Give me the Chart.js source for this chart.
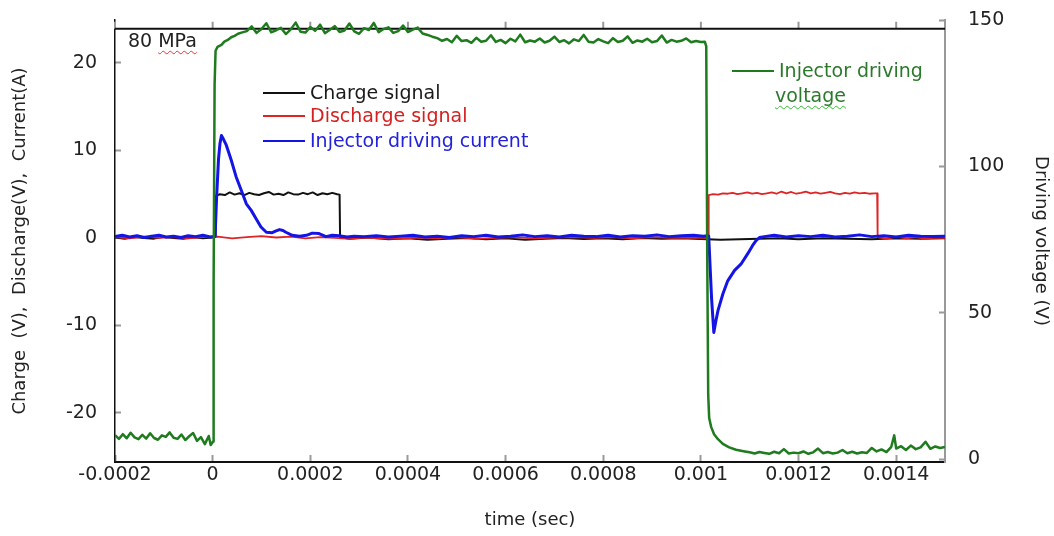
<!DOCTYPE html>
<html>
<head>
<meta charset="utf-8">
<title>Injector charge / discharge signals</title>
<script src="https://cdn.jsdelivr.net/npm/chart.js@4.4.1/dist/chart.umd.min.js"></script>
<style>
  body { margin: 0; background: #fff; }
  #wrap { position: relative; width: 1054px; height: 536px; font-family: "DejaVu Sans", sans-serif; }
  #chart { position: absolute; left: 0; top: 0; }
  .note { position: absolute; font-size: 19px; line-height: 22px; white-space: nowrap; }
  .key { display: inline-block; width: 42px; height: 2px; vertical-align: middle; margin-right: 5px; position: relative; top: -1px; }
  .squiggle { text-decoration: underline wavy; text-decoration-skip-ink: none; text-underline-offset: 3px; text-decoration-thickness: 1px; }
</style>
</head>
<body>
<div id="wrap">
  <canvas id="chart" width="1054" height="536"></canvas>
  <div class="note" style="left:128px; top:29px; color:#222">80 <span class="squiggle" style="text-decoration-color:#e33">MPa</span></div>
  <div class="note" style="left:263px; top:81px; color:#1a1a1a"><span class="key" style="background:#111"></span>Charge signal</div>
  <div class="note" style="left:263px; top:104px; color:#d62020"><span class="key" style="background:#e02424"></span>Discharge signal</div>
  <div class="note" style="left:263px; top:129px; color:#2222dd"><span class="key" style="background:#1414e6"></span>Injector driving current</div>
  <div class="note" style="left:732px; top:59px; color:#2b7a2b"><span class="key" style="background:#1e7b1e"></span>Injector driving</div>
  <div class="note" style="left:775px; top:84px; color:#2b7a2b"><span class="squiggle" style="text-decoration-color:#3b3">voltage</span></div>
</div>
<script>
// time in microseconds, values in V (voltage on right axis) or V / A (left axis)
const drivingVoltage = [
  [-200, 8.2], [-192, 6.9], [-184, 8.5], [-176, 7.1], [-168, 9.0], [-160, 7.4], [-152, 6.8], [-144, 8.3],
  [-136, 7.0], [-128, 8.8], [-120, 7.2], [-112, 6.6], [-104, 8.1], [-96, 7.6], [-88, 9.1], [-80, 7.3],
  [-72, 6.9], [-64, 8.4], [-56, 6.5], [-48, 7.8], [-40, 8.9], [-32, 6.2], [-24, 7.5], [-16, 5.1],
  [-8, 7.9], [-4, 4.8], [1, 6.0],
  [2, 60], [4, 128], [6, 139.5], [10, 140.8], [18, 141.5], [24, 142.6], [31, 143.2], [38, 144.1],
  [45, 144.6], [52, 145.3], [59, 145.7],
  [70, 146.2], [80, 147.8], [90, 145.6], [100, 146.9], [110, 148.9], [120, 145.8], [130, 146.5], [140, 147.3],
  [150, 145.2], [160, 146.8], [170, 149.1], [180, 146.0], [190, 145.7], [200, 147.6], [210, 146.3], [220, 148.4],
  [230, 145.5], [240, 146.7], [250, 147.9], [260, 145.9], [270, 146.4], [280, 148.8], [290, 146.1], [300, 145.3],
  [310, 147.2], [320, 146.6], [330, 149.0], [340, 145.8], [350, 146.9], [360, 147.5], [370, 145.6], [380, 146.2],
  [390, 148.1], [400, 145.9], [410, 146.7], [420, 147.4], [430, 145.4], [440, 144.9], [450, 144.3],
  [460, 143.8], [470, 142.9], [480, 143.5], [490, 142.4], [500, 144.6], [510, 142.8], [520, 143.1], [530, 142.2],
  [540, 143.9], [550, 142.6], [560, 142.9], [570, 144.8], [580, 142.5], [590, 143.2], [600, 142.1], [610, 143.6],
  [620, 142.7], [630, 145.0], [640, 142.4], [650, 143.0], [660, 142.6], [670, 143.7], [680, 142.3], [690, 142.9],
  [700, 144.3], [710, 142.5], [720, 143.1], [730, 142.0], [740, 143.4], [750, 142.8], [760, 144.9], [770, 142.6],
  [780, 142.3], [790, 143.5], [800, 142.7], [810, 142.1], [820, 143.8], [830, 142.5], [840, 142.9], [850, 144.4],
  [860, 142.2], [870, 143.0], [880, 142.6], [890, 143.6], [900, 142.4], [910, 142.8], [920, 144.7], [930, 142.3],
  [940, 143.2], [950, 142.6], [960, 142.9], [970, 143.7], [980, 142.4], [990, 142.8], [1000, 142.5], [1008, 142.6],
  [1011, 141], [1013, 70], [1015, 22], [1017, 14], [1021, 11], [1027, 8.5], [1035, 6.8], [1045, 5.2],
  [1058, 4.0], [1072, 3.2], [1090, 2.6],
  [1100, 2.3], [1110, 1.9], [1120, 2.4], [1130, 2.1], [1140, 1.8], [1150, 2.5], [1160, 2.0], [1170, 3.4],
  [1180, 1.9], [1190, 2.2], [1200, 2.0], [1210, 2.6], [1220, 1.8], [1230, 2.3], [1240, 3.6], [1250, 2.0],
  [1260, 2.4], [1270, 1.9], [1280, 2.2], [1290, 3.1], [1300, 2.0], [1310, 2.5], [1320, 1.9], [1330, 2.3],
  [1340, 2.1], [1350, 3.8], [1360, 2.6], [1370, 3.3], [1380, 2.4], [1390, 4.2], [1396, 8.1], [1400, 3.6],
  [1410, 4.4], [1420, 3.1], [1430, 4.6], [1440, 3.4], [1450, 4.0], [1460, 5.9], [1470, 3.5], [1480, 4.3],
  [1490, 3.8], [1500, 4.1]
];

const drivingCurrent = [
  [-200, 0.15], [-185, 0.3], [-170, 0.1], [-155, 0.25], [-140, 0.05], [-125, 0.2], [-110, 0.3], [-95, 0.1],
  [-80, 0.2], [-65, 0.05], [-50, 0.25], [-35, 0.15], [-20, 0.3], [-5, 0.1], [5, 0.2],
  [8, 4.5], [12, 9.0], [15, 10.8], [18, 11.7], [22, 11.3], [28, 10.6], [38, 8.9], [48, 7.0],
  [59, 5.4], [69, 3.9], [79, 3.15], [89, 2.2], [99, 1.25], [110, 0.65], [122, 0.6], [130, 0.8],
  [137, 0.95], [144, 0.85], [150, 0.65], [163, 0.3], [178, 0.2], [192, 0.3], [204, 0.55], [218, 0.5],
  [232, 0.15], [245, 0.3], [259, 0.25], [275, 0.1], [290, 0.2],
  [310, 0.15], [335, 0.25], [360, 0.1], [385, 0.2], [410, 0.3], [435, 0.1], [460, 0.2], [485, 0.05],
  [510, 0.25], [535, 0.15], [560, 0.3], [585, 0.1], [610, 0.2], [635, 0.35], [660, 0.15], [685, 0.25],
  [710, 0.1], [735, 0.3], [760, 0.2], [785, 0.15], [810, 0.3], [835, 0.1], [860, 0.25], [885, 0.2],
  [910, 0.35], [935, 0.15], [960, 0.25], [985, 0.3], [1005, 0.2], [1014, 0.25],
  [1016, 0.2], [1022, -7], [1026.5, -10.8], [1031, -9.4], [1035, -8.3], [1045, -6.4], [1055, -4.9],
  [1069, -3.7], [1082, -3.0], [1096, -1.8], [1106, -0.86], [1113, -0.3], [1120, 0.05],
  [1130, 0.15], [1150, 0.3], [1175, 0.1], [1200, 0.25], [1225, 0.15], [1250, 0.3], [1275, 0.1], [1300, 0.2],
  [1325, 0.35], [1350, 0.15], [1375, 0.25], [1400, 0.1], [1425, 0.3], [1450, 0.2], [1475, 0.15], [1500, 0.2]
];

const dischargeSignal = [
  [-200, 0.1], [-170, -0.05], [-140, 0.15], [-110, 0.0], [-80, 0.1], [-50, -0.05], [-20, 0.1], [10, 0.15],
  [40, -0.05], [70, 0.1], [100, 0.2], [130, 0.05], [160, 0.15], [190, -0.05], [220, 0.1], [250, 0.0],
  [280, -0.1], [310, 0.05], [340, -0.05], [380, -0.1], [420, 0.05], [460, -0.05], [500, 0.1], [540, -0.1],
  [580, 0.0], [620, 0.1], [660, -0.05], [700, 0.05], [740, 0.1], [780, 0.0], [820, 0.1], [860, -0.05],
  [900, 0.1], [940, 0.0], [980, 0.05], [1015, 0.0],
  [1016, 4.9], [1025, 5.0], [1035, 4.95], [1045, 5.1], [1055, 5.05], [1065, 5.15], [1075, 5.0], [1085, 5.1],
  [1095, 5.2], [1105, 5.05], [1115, 5.15], [1125, 5.0], [1135, 5.1], [1145, 5.2], [1155, 5.05], [1165, 5.3],
  [1175, 5.1], [1185, 5.25], [1195, 5.05], [1205, 5.15], [1215, 5.3], [1225, 5.1], [1235, 5.2], [1245, 5.05],
  [1255, 5.15], [1265, 5.25], [1275, 5.1], [1285, 5.0], [1295, 5.15], [1305, 5.05], [1315, 5.2], [1325, 5.1],
  [1335, 5.15], [1345, 5.05], [1355, 5.1], [1361, 5.1],
  [1362, 0.1], [1380, -0.1], [1400, 0.15], [1420, -0.05], [1440, 0.1], [1460, -0.1], [1480, 0.05], [1500, 0.0]
];

const chargeSignal = [
  [-200, 0.05], [-180, -0.1], [-160, 0.1], [-140, 0], [-120, -0.08], [-100, 0.12], [-80, 0], [-60, -0.1],
  [-40, 0.08], [-20, -0.05], [0, 0.05], [6, 0.1],
  [7, 4.8], [15, 5.0], [25, 4.9], [35, 5.2], [45, 4.95], [55, 5.1], [65, 4.9], [75, 5.15],
  [85, 5.0], [95, 4.9], [105, 5.1], [115, 5.25], [125, 4.95], [135, 5.05], [145, 4.9], [155, 5.2],
  [165, 5.0], [175, 4.95], [185, 5.15], [195, 5.0], [205, 5.2], [215, 4.9], [225, 5.1], [235, 5.0],
  [245, 5.15], [255, 5.0], [260, 4.95],
  [261, 0.1], [280, -0.1], [320, 0.05], [360, -0.15], [400, -0.05], [440, -0.2], [480, -0.1], [520, 0.0],
  [560, -0.15], [600, -0.05], [640, -0.2], [680, -0.1], [720, 0.0], [760, -0.12], [800, -0.05], [840, -0.15],
  [880, 0.0], [920, -0.1], [960, -0.05], [1000, -0.12], [1040, -0.2], [1080, -0.15], [1120, -0.1], [1160, -0.05],
  [1200, -0.15], [1250, -0.05], [1300, -0.1], [1350, -0.15], [1400, -0.05], [1450, -0.1], [1500, -0.05]
];

// tick values of the three axes
const timeTicks = [-0.0002, 0, 0.0002, 0.0004, 0.0006, 0.0008, 0.001, 0.0012, 0.0014];
const leftTicks = [-20, -10, 0, 10, 20];
const rightTicks = [0, 50, 100, 150];

// horizontal rule near the top of the frame (left axis units)
const topRuleValue = 23.9;

const tickFont = { family: "'DejaVu Sans', sans-serif", size: 19 };
const titleFont = { family: "'DejaVu Sans', sans-serif", size: 18 };

function toPoints(pairs) {
  return pairs.map(p => ({ x: p[0] / 1e6, y: p[1] }));
}

function fixedTicks(values) {
  return scale => { scale.ticks = values.map(v => ({ value: v })); };
}

// fixed axis width, and no extra top/bottom room asked for by the tick labels
function fixedWidth(w) {
  return s => { s.width = w; s.paddingTop = 0; s.paddingBottom = 0; };
}

const topRule = {
  id: 'topRule',
  beforeDatasetsDraw(chart) {
    const { ctx, chartArea, scales } = chart;
    const y = scales.y.getPixelForValue(topRuleValue);
    ctx.save();
    ctx.strokeStyle = '#999';
    ctx.lineWidth = 2;
    scales.x.ticks.forEach(t => {
      const x = scales.x.getPixelForValue(t.value);
      ctx.beginPath();
      ctx.moveTo(x, y);
      ctx.lineTo(x, y - 7);
      ctx.stroke();
    });
    ctx.strokeStyle = '#111';
    ctx.beginPath();
    ctx.moveTo(chartArea.left, y);
    ctx.lineTo(chartArea.right, y);
    ctx.stroke();
    ctx.restore();
  }
};

const ctx = document.getElementById('chart').getContext('2d');
new Chart(ctx, {
  type: 'line',
  data: {
    datasets: [
      { label: 'Injector driving voltage', data: toPoints(drivingVoltage), yAxisID: 'yR', borderColor: '#1e7b1e', borderWidth: 2.5 },
      { label: 'Injector driving current', data: toPoints(drivingCurrent), yAxisID: 'y', borderColor: '#1414e6', borderWidth: 3 },
      { label: 'Discharge signal', data: toPoints(dischargeSignal), yAxisID: 'y', borderColor: '#e02424', borderWidth: 1.8 },
      { label: 'Charge signal', data: toPoints(chargeSignal), yAxisID: 'y', borderColor: '#111', borderWidth: 2 }
    ]
  },
  options: {
    responsive: false,
    animation: false,
    devicePixelRatio: 1,
    layout: { padding: { top: 20, left: 0, right: 0, bottom: 0 } },
    elements: {
      point: { radius: 0 },
      line: { tension: 0, borderJoinStyle: 'round' }
    },
    plugins: {
      legend: { display: false },
      tooltip: { enabled: false }
    },
    scales: {
      x: {
        type: 'linear',
        position: 'bottom',
        min: -0.0002,
        max: 0.0015,
        border: { color: '#111', width: 2 },
        grid: { drawOnChartArea: false, tickLength: -7, tickColor: '#999', tickWidth: 2 },
        ticks: {
          autoSkip: false,
          maxRotation: 0,
          padding: 9,
          color: '#222',
          font: tickFont,
          callback: v => String(Number(v.toFixed(6)))
        },
        afterBuildTicks: fixedTicks(timeTicks),
        title: { display: true, text: 'time (sec)', color: '#222', font: titleFont, padding: { top: 0, bottom: 5 } },
        afterFit: s => { s.height = 74; }
      },
      y: {
        type: 'linear',
        position: 'left',
        min: -25.6,
        max: 24.9,
        border: { color: '#111', width: 1.5 },
        grid: { drawOnChartArea: false, tickLength: -6, tickColor: '#999', tickWidth: 2 },
        ticks: { padding: 24, color: '#222', font: tickFont },
        afterBuildTicks: fixedTicks(leftTicks),
        title: { display: true, text: 'Charge  (V),  Discharge(V),  Current(A)', color: '#222', font: titleFont, padding: { top: 10, bottom: 0 } },
        afterFit: fixedWidth(115)
      },
      yR: {
        type: 'linear',
        position: 'right',
        min: -1,
        max: 150,
        border: { color: '#999', width: 2 },
        grid: { drawOnChartArea: false, tickLength: -6, tickColor: '#999', tickWidth: 2 },
        ticks: { padding: 29, color: '#222', font: tickFont },
        afterBuildTicks: fixedTicks(rightTicks),
        title: { display: true, text: 'Driving voltage (V)', color: '#222', font: titleFont, padding: { top: 3, bottom: 0 } },
        afterFit: fixedWidth(109)
      }
    }
  },
  plugins: [topRule]
});
</script>
</body>
</html>
